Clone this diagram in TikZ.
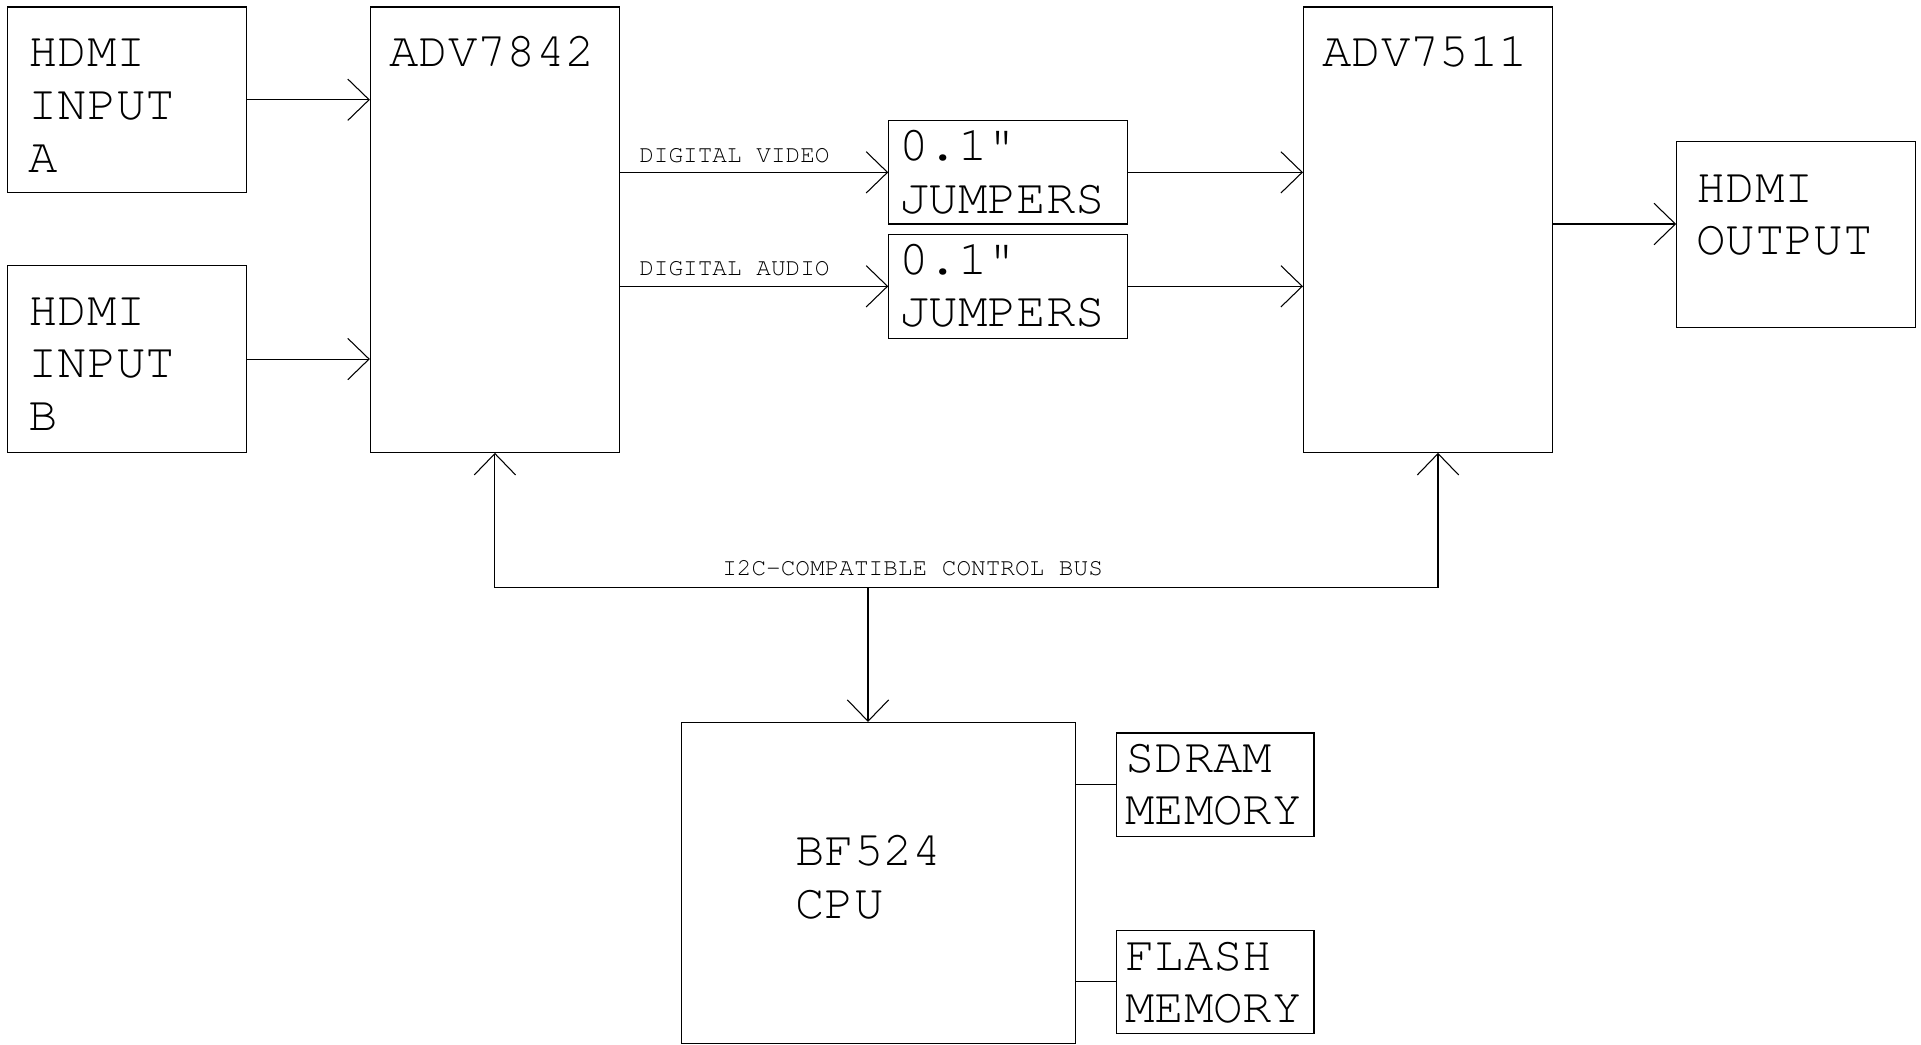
\documentclass[tikz,border=0pt]{standalone}
\usepackage{fontspec}
\setmainfont{TeX Gyre Cursor}[Ligatures=TeXOff]
\usetikzlibrary{arrows.meta}
\newlength\upx \setlength\upx{0.75pt}
\newcommand\bigf{\fontsize{36.75}{39.5}\selectfont}
\newcommand\smallf{\fontsize{18.3}{20}\selectfont}
\newcommand\ml[1]{\begin{tabular}[t]{@{}l@{}}#1\end{tabular}}
\begin{document}
\begin{tikzpicture}[x=0.75pt,y=-0.75pt,
  box/.style={draw, line width=0.8pt, inner sep=0pt, rectangle},
  lbl/.style={anchor=base west, inner sep=0pt, font=\bigf},
  sml/.style={anchor=base west, inner sep=0pt, font=\smallf},
  conn/.style={line width=0.8pt},
  arr/.style={conn, -{Straight Barb[length=16pt, width=31pt]}}]
\useasboundingbox (0,0) rectangle (1921,1045);
\fill[white] (0,0) rectangle (1921,1045);

% boxes
\node[box, minimum width=238.8\upx, minimum height=185.5\upx] (hdmiA) at (126.8,99.75) {};
\node[box, minimum width=238.8\upx, minimum height=186.5\upx] (hdmiB) at (126.8,359.05) {};
\node[box, minimum width=249\upx, minimum height=445.3\upx] (adv1) at (494.9,229.65) {};
\node[box, minimum width=238.4\upx, minimum height=103.3\upx] (jump1) at (1008,172.35) {};
\node[box, minimum width=238.4\upx, minimum height=104\upx] (jump2) at (1008,286.3) {};
\node[box, minimum width=249.1\upx, minimum height=445.3\upx] (adv2) at (1428.05,229.65) {};
\node[box, minimum width=238.8\upx, minimum height=186\upx] (hdmiout) at (1796.1,234.7) {};
\node[box, minimum width=394.2\upx, minimum height=321\upx] (cpu) at (878.4,883) {};
\node[box, minimum width=197.8\upx, minimum height=103.3\upx] (sdram) at (1215.1,784.65) {};
\node[box, minimum width=197.8\upx, minimum height=103\upx] (flash) at (1215.1,981.7) {};

% box texts
\node[lbl] (tA) at (28,66.7) {\ml{HDMI\\INPUT\\A}};
\node[lbl] (tB) at (28,325) {\ml{HDMI\\INPUT\\B}};
\node[lbl] (t1) at (389,66.7) {ADV7842};
\node[lbl] (t2) at (1322,67) {ADV7511};
\node[lbl] (tj1) at (899,160.7) {\ml{0.1\symbol{34}\\JUMPERS}};
\node[lbl] (tj2) at (899,274) {\ml{0.1\symbol{34}\\JUMPERS}};
\node[lbl] (tout) at (1696,202.3) {\ml{HDMI\\OUTPUT}};
\node[lbl] (tcpu) at (795,865.6) {\ml{BF524\\CPU}};
\node[lbl] (tsd) at (1125,772) {\ml{SDRAM\\MEMORY}};
\node[lbl] (tfl) at (1125,970) {\ml{FLASH\\MEMORY}};

% connector labels
\node[sml] (lv) at (639,162.3) {DIGITAL VIDEO};
\node[sml] (la) at (639,275.7) {DIGITAL AUDIO};
\node[sml] (lbus) at (722,575.9) {I2C-COMPATIBLE CONTROL BUS};

% connectors
\draw[arr] (hdmiA.east) -- (hdmiA.east -| adv1.west);
\draw[arr] (hdmiB.east) -- (hdmiB.east -| adv1.west);
\draw[arr] (jump1.west -| adv1.east) -- (jump1.west);
\draw[arr] (jump2.west -| adv1.east) -- (jump2.west);
\draw[arr] (jump1.east) -- (jump1.east -| adv2.west);
\draw[arr] (jump2.east) -- (jump2.east -| adv2.west);
\coordinate (outy) at (1600,224);
\draw[arr] (adv2.east |- outy) -- (hdmiout.west |- outy);

\coordinate (busL) at (494.9,587.5);
\coordinate (busR) at (1438,587.5);
\coordinate (busM) at (868,587.5);
\draw[conn] (busL) -- (busR);
\draw[arr] (busL) -- (busL |- adv1.south);
\draw[arr] (busR) -- (busR |- adv2.south);
\draw[arr] (busM) -- (busM |- cpu.north);

\draw[conn] (sdram.west -| cpu.east) -- (sdram.west);
\draw[conn] (flash.west -| cpu.east) -- (flash.west);
\end{tikzpicture}
\end{document}
